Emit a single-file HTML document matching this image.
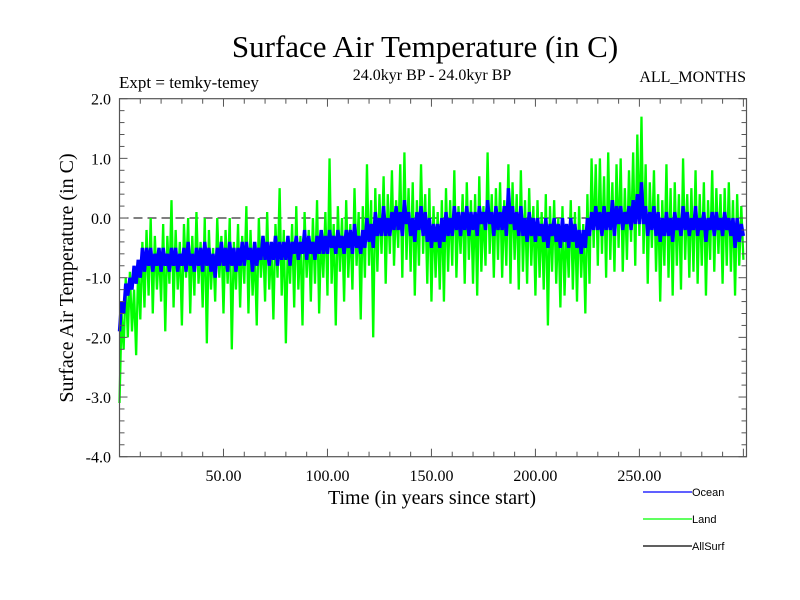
<!DOCTYPE html>
<html><head><meta charset="utf-8"><style>
html,body{margin:0;padding:0;background:#fff;}
svg{display:block;font-family:"Liberation Serif",serif;}
</style></head><body>
<svg id="chart" width="800" height="600" viewBox="0 0 800 600" xmlns="http://www.w3.org/2000/svg">
<rect x="0" y="0" width="800" height="600" fill="#fff"/>
<text x="425" y="57" font-size="31" text-anchor="middle">Surface Air Temperature (in C)</text>
<text x="432" y="80" font-size="16" text-anchor="middle">24.0kyr BP - 24.0kyr BP</text>
<text x="119" y="88" font-size="17">Expt = temky-temey</text>
<text x="746" y="82" font-size="16" text-anchor="end">ALL_MONTHS</text>
<text transform="translate(73,278) rotate(-90)" font-size="20" text-anchor="middle">Surface Air Temperature (in C)</text>
<text x="432" y="504" font-size="20" text-anchor="middle">Time (in years since start)</text>
<g id="plot"></g>
<g id="axes"></g>
<g id="legend"></g>
</svg>
<script>
const yTicks = [2.0, 1.0, 0.0, -1.0, -2.0, -3.0, -4.0];
const yTickLabels = ["2.0", "1.0", "0.0", "-1.0", "-2.0", "-3.0", "-4.0"];
const xTicks = [50, 100, 150, 200, 250];
const xTickLabels = ["50.00", "100.00", "150.00", "200.00", "250.00"];
const seriesNames = ["Ocean", "Land", "AllSurf"];
const landValues = [
-3.1,-1.6,-2.2,-1.0,-2.0,-0.9,-1.9,-1.2,-2.3,-0.8,
-1.7,-0.4,-1.5,-0.2,-1.3,0.0,-1.6,-0.3,-1.2,-0.5,
-1.4,-0.1,-1.9,-0.3,-1.1,0.3,-1.5,-0.2,-1.2,-0.4,
-1.8,-0.1,-1.0,0.0,-1.6,-0.3,-1.3,0.1,-1.1,-0.4,
-1.5,0.0,-2.1,-0.2,-1.2,-0.5,-1.4,0.0,-1.0,-0.3,
-1.6,-0.2,-1.1,0.0,-2.2,-0.4,-1.2,-0.1,-1.5,-0.3,
-1.1,0.2,-1.6,-0.2,-1.3,-0.5,-1.8,0.0,-1.0,-0.3,
-1.4,0.1,-1.2,-0.4,-1.7,-0.1,-1.0,0.5,-1.3,-0.2,
-2.1,-0.3,-1.1,-0.1,-1.5,0.2,-1.2,-0.3,-1.8,0.1,
-1.0,-0.2,-1.4,0.0,-1.1,0.3,-1.6,-0.2,-1.0,0.1,
-1.3,1.0,-1.1,-0.1,-1.8,0.2,-0.9,0.0,-1.4,0.3,
-1.0,-0.1,-1.2,0.5,-0.8,0.1,-1.7,0.2,-1.0,0.9,
-0.8,0.3,-2.0,0.5,-0.9,0.4,-0.6,0.7,-1.1,0.4,
-0.6,0.8,-0.8,0.3,-0.5,0.9,-1.0,1.1,-0.7,0.5,
-0.9,0.6,-1.3,0.3,-0.8,0.9,-0.6,0.4,-1.1,0.5,
-1.4,0.2,-1.0,0.1,-1.2,0.3,-1.4,0.5,-0.9,0.3,
-0.8,0.8,-1.0,0.2,-0.6,0.4,-1.1,0.6,-0.7,0.3,
-1.1,0.4,-1.3,0.7,-0.9,0.2,-0.8,1.1,-0.6,0.4,
-1.0,0.5,-0.7,0.6,-1.0,0.3,-0.8,0.9,-1.1,0.6,
-0.7,0.4,-1.2,0.8,-0.9,0.3,-1.1,0.5,-0.8,0.2,
-1.3,0.3,-1.0,0.1,-1.2,0.4,-1.8,0.2,-0.9,0.3,
-1.1,0.0,-1.5,0.2,-1.3,-0.1,-1.0,0.3,-1.2,0.1,
-1.4,0.2,-1.0,-0.1,-1.6,0.4,-1.1,1.0,-0.5,0.9,
-0.8,1.0,-0.6,0.7,-1.0,1.1,-0.7,0.6,-0.9,0.9,
-0.5,1.0,-0.9,0.5,-0.7,0.8,-0.4,1.1,-0.8,1.4,
-0.3,1.7,-0.6,0.9,-1.1,0.6,-0.5,0.8,-0.9,0.4,
-1.4,0.3,-0.8,0.9,-1.0,0.5,-1.3,0.6,-0.8,0.4,
-1.2,1.0,-0.7,0.4,-1.0,0.5,-0.9,0.8,-1.1,0.4,
-0.8,0.6,-1.3,0.3,-0.7,0.8,-0.9,0.5,-0.6,0.4,
-1.1,0.5,-0.8,0.6,-0.9,0.3,-1.3,0.4,-0.8,0.2,
-0.7];
const oceanValues = [
-1.9,-1.4,-1.6,-1.1,-1.3,-1.0,-1.2,-0.8,-1.1,-0.7,
-1.0,-0.5,-0.9,-0.5,-0.8,-0.5,-0.9,-0.6,-0.8,-0.5,
-0.9,-0.5,-0.8,-0.6,-0.9,-0.5,-0.8,-0.5,-0.9,-0.6,
-0.8,-0.5,-0.9,-0.4,-0.8,-0.6,-0.9,-0.5,-0.8,-0.5,
-0.9,-0.4,-0.8,-0.5,-0.9,-0.6,-1.0,-0.5,-0.8,-0.4,
-0.8,-0.5,-0.9,-0.4,-0.8,-0.5,-0.9,-0.5,-0.8,-0.4,
-0.8,-0.4,-0.7,-0.5,-0.9,-0.4,-0.8,-0.5,-0.7,-0.3,
-0.7,-0.4,-0.8,-0.4,-0.7,-0.3,-0.8,-0.4,-0.7,-0.4,
-0.7,-0.3,-0.8,-0.4,-0.6,-0.3,-0.7,-0.4,-0.6,-0.2,
-0.7,-0.3,-0.6,-0.4,-0.7,-0.3,-0.6,-0.2,-0.6,-0.3,
-0.6,-0.2,-0.5,-0.3,-0.6,-0.2,-0.5,-0.3,-0.6,-0.2,
-0.5,-0.2,-0.6,-0.1,-0.5,-0.3,-0.6,-0.2,-0.5,0.0,
-0.4,-0.1,-0.5,0.1,-0.3,0.0,-0.3,0.2,-0.3,0.0,
-0.3,0.1,-0.2,0.2,-0.2,0.1,-0.3,0.3,-0.1,0.1,
-0.3,0.0,-0.4,0.1,-0.2,0.2,-0.3,0.1,-0.4,0.0,
-0.5,-0.1,-0.4,-0.1,-0.5,0.0,-0.4,0.1,-0.3,0.0,
-0.3,0.2,-0.2,0.1,-0.3,0.1,-0.2,0.2,-0.3,0.1,
-0.2,0.1,-0.3,0.2,-0.1,0.1,-0.2,0.3,-0.1,0.1,
-0.3,0.2,-0.2,0.1,-0.2,0.2,-0.3,0.5,-0.1,0.2,
-0.2,0.1,-0.3,0.2,-0.3,0.0,-0.4,0.1,-0.3,0.0,
-0.4,0.0,-0.3,-0.1,-0.4,0.0,-0.5,-0.1,-0.3,0.0,
-0.4,-0.1,-0.5,0.0,-0.4,-0.1,-0.5,0.0,-0.4,-0.1,
-0.5,-0.2,-0.6,-0.2,-0.5,0.0,-0.3,0.1,-0.2,0.2,
-0.2,0.1,-0.3,0.2,-0.2,0.1,-0.2,0.3,-0.3,0.2,
-0.1,0.2,-0.2,0.1,-0.1,0.2,-0.2,0.3,-0.1,0.4,
-0.1,0.6,-0.1,0.2,-0.3,0.1,-0.2,0.2,-0.3,0.1,
-0.4,0.0,-0.3,0.1,-0.3,0.0,-0.4,0.1,-0.2,0.0,
-0.3,0.2,-0.2,0.1,-0.3,0.0,-0.2,0.2,-0.3,0.0,
-0.2,0.1,-0.4,0.0,-0.2,0.1,-0.3,0.1,-0.2,0.0,
-0.3,0.1,-0.2,0.0,-0.3,0.0,-0.5,0.0,-0.4,-0.1,
-0.3];

const NS = "http://www.w3.org/2000/svg";
const L = 119.5, R = 746.5, T = 98.7, B = 456.7;
const xMin = 0, xMax = 301.5, yMin = -4, yMax = 2;
function xs(v){ return L + (v - xMin) / (xMax - xMin) * (R - L); }
function ys(v){ return B - (v - yMin) / (yMax - yMin) * (B - T); }
function mk(tag, attrs, parent){
  const e = document.createElementNS(NS, tag);
  for (const k in attrs) e.setAttribute(k, attrs[k]);
  parent.appendChild(e);
  return e;
}
const plot = document.getElementById('plot');
const axes = document.getElementById('axes');
const legend = document.getElementById('legend');

const zl = mk('line', {x1: L, x2: R, y1: ys(0), y2: ys(0), stroke: '#000', 'stroke-width': 1, 'stroke-dasharray': '9,5'}, plot);



function pathFor(vals){
  return vals.map((v, i) => (i ? 'L' : 'M') + xs(i).toFixed(2) + ',' + ys(v).toFixed(2)).join(' ');
}
const land = mk('path', {d: pathFor(landValues), fill: 'none', stroke: '#00ff00', 'stroke-width': 2.3, 'stroke-linejoin': 'bevel'}, plot);


const ocean = mk('path', {d: pathFor(oceanValues), fill: 'none', stroke: '#0000ff', 'stroke-width': 3.4, 'stroke-linejoin': 'bevel'}, plot);



const fr = mk('rect', {x: L, y: T, width: R - L, height: B - T, fill: 'none', stroke: '#555', 'stroke-width': 1.2}, axes);



for (let v = yMin; v <= yMax + 1e-9; v += 0.2) {
  const major = Math.abs(v - Math.round(v)) < 1e-6;
  const len = major ? 8 : 5;
  const y = ys(v);
  const t1 = mk('line', {x1: L, x2: L + len, y1: y, y2: y, stroke: '#555', 'stroke-width': 1}, axes);
  
  
  const t2 = mk('line', {x1: R, x2: R - len, y1: y, y2: y, stroke: '#555', 'stroke-width': 1}, axes);
  
  
}
yTicks.forEach((v, i) => {
  const t = mk('text', {x: 111, y: ys(v) + 6, 'font-size': 16, 'text-anchor': 'end'}, axes);
  t.textContent = yTickLabels[i];
  
  
});
for (let v = 10; v <= 300; v += 10) {
  const major = v % 50 === 0;
  const len = major ? 8 : 5;
  const x = xs(v);
  const t1 = mk('line', {x1: x, x2: x, y1: B, y2: B - len, stroke: '#555', 'stroke-width': 1}, axes);
  
  
  const t2 = mk('line', {x1: x, x2: x, y1: T, y2: T + len, stroke: '#555', 'stroke-width': 1}, axes);
  
  
}
xTicks.forEach((v, i) => {
  const t = mk('text', {x: xs(v), y: 481, 'font-size': 16, 'text-anchor': 'middle'}, axes);
  t.textContent = xTickLabels[i];
  
  
});
const colors = ['#0000ff', '#00ff00', '#000000'];
seriesNames.forEach((n, i) => {
  const y = 492 + i * 27;
  const ln = mk('line', {x1: 643, x2: 692, y1: y, y2: y, stroke: colors[i], 'stroke-width': 1.3}, legend);
  
  
  const t = mk('text', {x: 692, y: y + 4, 'font-size': 11, 'font-family': '"Liberation Sans", sans-serif'}, legend);
  t.textContent = n;
  
  
});
</script>
</body></html>
